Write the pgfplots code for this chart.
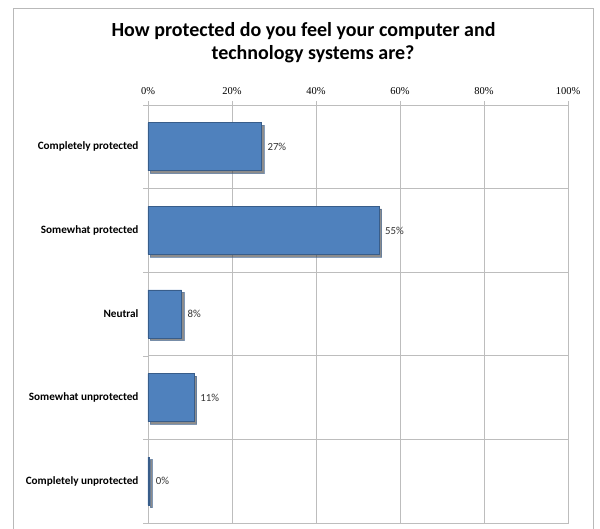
\documentclass[border=0pt]{standalone}
\usepackage{pgfplots}
\pgfplotsset{compat=1.18}
\usepackage{pgfplotstable}
\usepackage{fontspec}
\setmainfont{Carlito}
\newfontfamily\tickfont{Liberation Serif}
\usetikzlibrary{shadows}
\definecolor{barblue}{HTML}{4F81BD}
\definecolor{bardraw}{HTML}{385D8A}
\definecolor{gridgray}{HTML}{BDBDBD}

\pgfplotstableread{
y x lab
0 27 27
1 55 55
2 8 8
3 11 11
4 0.4 0
}\datatable

\begin{document}
\begin{tikzpicture}[x=1pt,y=1pt]
\path[use as bounding box] (0,0) rectangle (600,529);
\draw[gray!55, line width=0.8pt] (13,-10) rectangle (593,521);
\node[font=\bfseries\fontsize{20}{24}\selectfont, anchor=base, inner sep=0pt] at (303.5,492) {How protected do you feel your computer and};
\node[font=\bfseries\fontsize{20}{24}\selectfont, anchor=base, inner sep=0pt] at (313,469) {technology systems are?};
\begin{axis}[
  at={(148pt,6pt)}, anchor=south west, scale only axis,
  width=420pt, height=418pt,
  xbar, bar width=48pt,
  xmin=0, xmax=100, ymin=-0.5, ymax=4.5, y dir=reverse,
  xtick={0,20,...,100},
  xticklabels={0\%,20\%,40\%,60\%,80\%,100\%},
  xticklabel pos=upper, xtick pos=right,
  xticklabel style={font=\tickfont\fontsize{10.5}{12}\selectfont, yshift=3pt},
  ytick={0,1,2,3,4},
  yticklabels={Completely protected,Somewhat protected,Neutral,Somewhat unprotected,Completely unprotected},
  yticklabel style={font=\bfseries\fontsize{11.2}{13}\selectfont, xshift=-2pt},
  ytick pos=left,
  minor ytick={-0.5,0.5,...,4.5},
  tick align=outside,
  major tick length=4pt, minor tick length=5pt,
  every major y tick/.append style={draw=none},
  every minor y tick/.append style={draw=gridgray},
  every major x tick/.append style={draw=gridgray},
  xmajorgrids, yminorgrids,
  grid style={draw=gridgray, line width=0.6pt},
  axis line style={draw=gridgray, line width=0.6pt},
  point meta=explicit symbolic,
  nodes near coords={\pgfplotspointmeta\%},
  nodes near coords style={font=\fontsize{10.8}{12}\selectfont, black!80, anchor=west, xshift=2.5pt},
]
\addplot[fill=barblue, draw=bardraw, line width=0.6pt,
  drop shadow={shadow xshift=2.5pt, shadow yshift=-2.5pt, opacity=0.6, fill=black!75}]
  table[x=x, y=y, meta=lab] {\datatable};
\end{axis}
\end{tikzpicture}
\end{document}
